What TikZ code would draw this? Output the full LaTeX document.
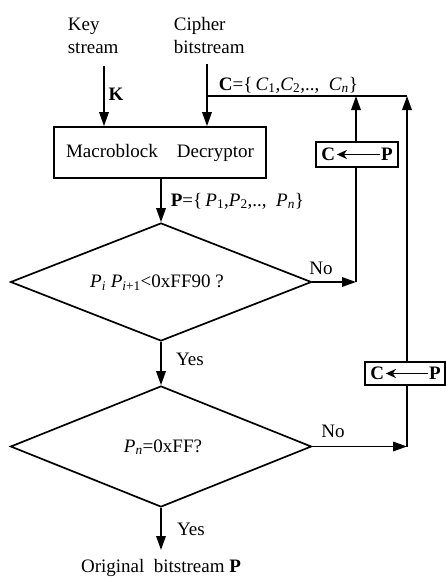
\documentclass[tikz,border=0pt]{standalone}
\usepackage{fontspec}
\setmainfont{Liberation Serif}
\usetikzlibrary{arrows.meta,shapes.geometric}
\newcommand{\sbi}[1]{\textsubscript{\textit{#1}}}
\begin{document}
\begin{tikzpicture}[x=1pt,y=-1pt,
  font=\fontsize{19}{23}\selectfont,
  line width=1.7pt,
  arr/.style={-{Triangle[length=14pt,width=9.5pt]}},
  smallarr/.style={-{Stealth[length=10pt,width=9pt,inset=3pt]}},
  blk/.style={draw, rectangle, inner sep=0pt},
  dec/.style={draw, diamond, inner sep=0pt, minimum width=301pt, minimum height=#1, aspect=2.5},
  lbl/.style={inner sep=0pt}]
\useasboundingbox (0,0) rectangle (446,578);

% inputs
\node[lbl, anchor=west, align=left] (key) at (67,36) {Key\\stream};
\node[lbl, anchor=west, align=left] (cip) at (173,36) {Cipher\\bitstream};
\coordinate (k0) at (104,66);
\coordinate (c0) at (207,64);

% decryptor box
\node[blk, minimum width=212pt, minimum height=51pt] (box) at (160,152.5) {Macroblock\quad Decryptor};

\draw[arr] (k0) -- (k0 |- box.north);
\node[lbl] (klab) at (116,94) {\textbf{K}};
\draw[arr] (c0) -- (c0 |- box.north);

% top bus
\coordinate (bus0) at (207,96);
\coordinate (bus1) at (356,96);
\coordinate (bus2) at (407,96);
\draw (bus0) -- (bus2);
\node[lbl, anchor=base west] (clab) at (218,90) {\textbf{C}=\{\,\textit{C}\textsubscript{1},\textit{C}\textsubscript{2},.., \ \textit{C}\sbi{n}\}};

% decisions
\node[dec=118pt] (d1) at (161,282) {};
\node[lbl] (d1t) at (157,283) {\textit{P}\sbi{i} \textit{P}\textsubscript{\textit{i}+1}<0xFF90 ?};
\node[dec=121pt] (d2) at (161,446.5) {};
\node[lbl] (d2t) at (163,447) {\textit{P}\sbi{n}=0xFF?};

\draw[arr] (box.south -| d1.north) -- (d1.north);
\node[lbl, anchor=base west] (plab) at (170,206) {\textbf{P}=\{\,\textit{P}\textsubscript{1},\textit{P}\textsubscript{2},.., \ \textit{P}\sbi{n}\}};

\draw[arr] (d1.south) -- (d2.north);
\node[lbl] (yes1) at (190,359) {Yes};

\coordinate (out) at (161,550);
\draw[arr] (d2.south) -- (out);
\node[lbl] (yes2) at (191,529) {Yes};
\node[lbl] (orig) at (161,568) {Original\ \ bitstream \textbf{P}};

% No branch 1
\node[blk, minimum width=82pt, minimum height=25pt] (cp1) at (357,154.5) {};
\node[lbl] (cp1c) at ([xshift=13pt]cp1.west) {\textbf{C}};
\node[lbl] (cp1p) at ([xshift=-12pt]cp1.east) {\textbf{P}};
\draw[smallarr, line width=1.5pt] (cp1p.west) -- ([xshift=1pt]cp1c.east);
\coordinate (v1) at (356,282);
\draw[arr] (d1.east) -- (v1);
\node[lbl] (no1) at (321,268) {No};
\draw (v1) -- (v1 |- cp1.south);
\draw[arr] (v1 |- cp1.north) -- (bus1);

% No branch 2
\node[blk, minimum width=80pt, minimum height=23pt] (cp2) at (405,373.5) {};
\node[lbl] (cp2c) at ([xshift=13pt]cp2.west) {\textbf{C}};
\node[lbl] (cp2p) at ([xshift=-11pt]cp2.east) {\textbf{P}};
\draw[smallarr, line width=1.5pt] (cp2p.west) -- ([xshift=1pt]cp2c.east);
\coordinate (v2) at (407,446.5);
\draw[arr] (d2.east) -- (v2);
\node[lbl] (no2) at (333,431) {No};
\draw (v2) -- (v2 |- cp2.south);
\draw[arr] (v2 |- cp2.north) -- (bus2);
\end{tikzpicture}
\end{document}
